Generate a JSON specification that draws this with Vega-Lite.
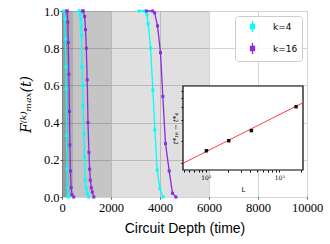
{
  "$schema": "https://vega.github.io/schema/vega-lite/v6.json",
  "width": 245,
  "height": 186,
  "autosize": {"type": "none"},
  "padding": {"left": 62, "top": 11, "right": 23, "bottom": 47},
  "background": "white",
  "config": {"view": {"stroke": "#555555", "strokeWidth": 1}},
  "datasets": {
    "shade": [
      {"start": 0, "end": 6000, "level": "a"},
      {"start": 0, "end": 2000, "level": "b"},
      {"start": 0, "end": 450, "level": "c"},
      {"start": 0, "end": 260, "level": "d"}
    ],
    "curves": [
      {"k": "k=4", "L": "L1", "t": 70, "F": 1.0},
      {"k": "k=4", "L": "L1", "t": 110, "F": 0.96},
      {"k": "k=4", "L": "L1", "t": 135, "F": 0.85},
      {"k": "k=4", "L": "L1", "t": 158, "F": 0.7},
      {"k": "k=4", "L": "L1", "t": 172, "F": 0.58},
      {"k": "k=4", "L": "L1", "t": 185, "F": 0.33},
      {"k": "k=4", "L": "L1", "t": 205, "F": 0.15},
      {"k": "k=4", "L": "L1", "t": 220, "F": 0.05},
      {"k": "k=4", "L": "L1", "t": 245, "F": 0.01},
      {"k": "k=4", "L": "L1", "t": 265, "F": 0.0},
      {"k": "k=16", "L": "L1", "t": 190, "F": 1.0},
      {"k": "k=16", "L": "L1", "t": 216, "F": 1.0},
      {"k": "k=16", "L": "L1", "t": 240, "F": 0.94},
      {"k": "k=16", "L": "L1", "t": 257, "F": 0.83},
      {"k": "k=16", "L": "L1", "t": 280, "F": 0.66},
      {"k": "k=16", "L": "L1", "t": 305, "F": 0.46},
      {"k": "k=16", "L": "L1", "t": 322, "F": 0.28},
      {"k": "k=16", "L": "L1", "t": 345, "F": 0.14},
      {"k": "k=16", "L": "L1", "t": 375, "F": 0.05},
      {"k": "k=16", "L": "L1", "t": 405, "F": 0.013},
      {"k": "k=16", "L": "L1", "t": 480, "F": 0.0},
      {"k": "k=4", "L": "L2", "t": 690, "F": 1.0},
      {"k": "k=4", "L": "L2", "t": 740, "F": 0.98},
      {"k": "k=4", "L": "L2", "t": 765, "F": 0.955},
      {"k": "k=4", "L": "L2", "t": 785, "F": 0.915},
      {"k": "k=4", "L": "L2", "t": 795, "F": 0.87},
      {"k": "k=4", "L": "L2", "t": 815, "F": 0.7},
      {"k": "k=4", "L": "L2", "t": 840, "F": 0.6},
      {"k": "k=4", "L": "L2", "t": 856, "F": 0.49},
      {"k": "k=4", "L": "L2", "t": 895, "F": 0.34},
      {"k": "k=4", "L": "L2", "t": 920, "F": 0.215},
      {"k": "k=4", "L": "L2", "t": 948, "F": 0.09},
      {"k": "k=4", "L": "L2", "t": 985, "F": 0.045},
      {"k": "k=4", "L": "L2", "t": 1030, "F": 0.018},
      {"k": "k=4", "L": "L2", "t": 1085, "F": 0.0},
      {"k": "k=16", "L": "L2", "t": 830, "F": 1.0},
      {"k": "k=16", "L": "L2", "t": 870, "F": 1.0},
      {"k": "k=16", "L": "L2", "t": 925, "F": 0.97},
      {"k": "k=16", "L": "L2", "t": 960, "F": 0.9},
      {"k": "k=16", "L": "L2", "t": 992, "F": 0.8},
      {"k": "k=16", "L": "L2", "t": 1030, "F": 0.63},
      {"k": "k=16", "L": "L2", "t": 1060, "F": 0.4},
      {"k": "k=16", "L": "L2", "t": 1100, "F": 0.24},
      {"k": "k=16", "L": "L2", "t": 1128, "F": 0.15},
      {"k": "k=16", "L": "L2", "t": 1155, "F": 0.09},
      {"k": "k=16", "L": "L2", "t": 1195, "F": 0.05},
      {"k": "k=16", "L": "L2", "t": 1237, "F": 0.027},
      {"k": "k=16", "L": "L2", "t": 1300, "F": 0.0},
      {"k": "k=4", "L": "L3", "t": 3150, "F": 1.0},
      {"k": "k=4", "L": "L3", "t": 3380, "F": 1.0},
      {"k": "k=4", "L": "L3", "t": 3470, "F": 0.98},
      {"k": "k=4", "L": "L3", "t": 3520, "F": 0.93},
      {"k": "k=4", "L": "L3", "t": 3615, "F": 0.8},
      {"k": "k=4", "L": "L3", "t": 3710, "F": 0.575},
      {"k": "k=4", "L": "L3", "t": 3790, "F": 0.36},
      {"k": "k=4", "L": "L3", "t": 3885, "F": 0.144},
      {"k": "k=4", "L": "L3", "t": 3995, "F": 0.045},
      {"k": "k=4", "L": "L3", "t": 4130, "F": 0.0},
      {"k": "k=16", "L": "L3", "t": 3450, "F": 1.0},
      {"k": "k=16", "L": "L3", "t": 3700, "F": 1.0},
      {"k": "k=16", "L": "L3", "t": 3780, "F": 0.99},
      {"k": "k=16", "L": "L3", "t": 3900, "F": 0.92},
      {"k": "k=16", "L": "L3", "t": 4020, "F": 0.776},
      {"k": "k=16", "L": "L3", "t": 4115, "F": 0.54},
      {"k": "k=16", "L": "L3", "t": 4225, "F": 0.287},
      {"k": "k=16", "L": "L3", "t": 4375, "F": 0.14},
      {"k": "k=16", "L": "L3", "t": 4510, "F": 0.02},
      {"k": "k=16", "L": "L3", "t": 4650, "F": 0.0}
    ],
    "frame": [
      {"L0": 49, "L1": 2100, "d0": 40, "d1": 587}
    ],
    "inset": [
      {"L": 102, "dt": 74},
      {"L": 205, "dt": 102},
      {"L": 417, "dt": 141},
      {"L": 1690, "dt": 303}
    ],
    "fit": [
      {"L": 49, "dt": 49.6},
      {"L": 2100, "dt": 344}
    ]
  },
  "layer": [
    {
      "layer": [
        {
          "data": {"name": "shade"},
          "mark": {"type": "rect", "fill": "black"},
          "encoding": {
            "x": {
              "field": "start", "type": "quantitative",
              "scale": {"domain": [0, 10000], "nice": false},
              "axis": {
                "values": [0, 2000, 4000, 6000, 8000, 10000], "format": "d",
                "grid": true, "gridColor": "#d4d4d4", "gridWidth": 1,
                "domain": false, "tickSize": 2, "tickColor": "#555555",
                "labelFont": "Liberation Serif", "labelFontSize": 12.5, "labelColor": "black",
                "labelPadding": 2, "labelFlush": false, "labelOverlap": false,
                "title": "Circuit Depth (time)", "titleFont": "Liberation Sans",
                "titleFontSize": 14, "titleFontWeight": "normal", "titleColor": "black",
                "titlePadding": 8
              }
            },
            "x2": {"field": "end"},
            "opacity": {
              "field": "level", "type": "nominal",
              "scale": {"domain": ["a", "b", "c", "d"], "range": [0.12, 0.11, 0.2, 0.25]},
              "legend": null
            }
          }
        },
        {
          "data": {"name": "curves"},
          "mark": {"type": "line", "strokeWidth": 1.3},
          "encoding": {
            "x": {"field": "t", "type": "quantitative"},
            "y": {
              "field": "F", "type": "quantitative",
              "scale": {"domain": [0, 1], "nice": false, "zero": false},
              "axis": {
                "tickCount": 5, "format": ".1f",
                "grid": true, "gridColor": "#d4d4d4", "gridWidth": 1,
                "domain": false, "tickSize": 2, "tickColor": "#555555",
                "labelFont": "Liberation Serif", "labelFontSize": 12.5, "labelColor": "black",
                "labelPadding": 1, "labelFlush": false, "labelOverlap": false,
                "title": "F⁽ᵏ⁾ₘₐₓ(t)", "titleFont": "DejaVu Serif", "titleFontStyle": "italic",
                "titleFontSize": 14, "titleFontWeight": "normal", "titleColor": "black",
                "titlePadding": 10
              }
            },
            "color": {
              "field": "k", "type": "nominal",
              "scale": {"domain": ["k=4", "k=16"], "range": ["#00ffff", "#8a2be2"]},
              "legend": {
                "title": null, "orient": "top-right", "offset": 5,
                "padding": 4, "rowPadding": 5, "symbolOffset": 7,
                "symbolType": "M0,-1V1M-0.36,-0.36H0.36V0.36H-0.36Z",
                "symbolSize": 121, "symbolStrokeWidth": 1.3,
                "labelFont": "DejaVu Sans", "labelFontSize": 9, "labelColor": "black",
                "labelOffset": 14,
                "strokeColor": "#cccccc", "fillColor": "rgba(255,255,255,0.8)",
                "cornerRadius": 3
              }
            },
            "detail": {"field": "L"},
            "order": {"field": "t"}
          }
        },
        {
          "data": {"name": "curves"},
          "mark": {"type": "point", "shape": "square", "filled": true, "size": 9, "opacity": 1},
          "encoding": {
            "x": {"field": "t", "type": "quantitative"},
            "y": {"field": "F", "type": "quantitative"},
            "color": {"field": "k", "type": "nominal"}
          }
        }
      ]
    },
    {
      "layer": [
        {
          "data": {"name": "frame"},
          "mark": {"type": "rect", "fill": "white", "stroke": "black", "strokeWidth": 1.2},
          "encoding": {
            "x": {
              "field": "L0", "type": "quantitative",
              "scale": {"type": "log", "domain": [49, 2100], "range": [121, 241], "nice": false},
              "axis": {
                "orient": "bottom", "offset": -27,
                "values": [50, 60, 70, 80, 90, 100, 200, 300, 400, 500, 600, 700, 800, 900, 1000, 2000],
                "labelExpr": "datum.value == 100 ? '10²' : datum.value == 1000 ? '10³' : ''",
                "labelFont": "DejaVu Serif", "labelFontSize": 6, "labelColor": "black",
                "tickSize": 2, "tickColor": "black", "domain": false, "grid": false,
                "labelPadding": 2, "labelFlush": false, "labelOverlap": false,
                "title": "L", "titleFont": "DejaVu Sans", "titleFontSize": 7,
                "titleFontWeight": "normal", "titleColor": "black", "titlePadding": 5
              }
            },
            "x2": {"field": "L1"},
            "y": {
              "field": "d0", "type": "quantitative",
              "scale": {"type": "log", "domain": [40, 587], "range": [159, 75], "nice": false},
              "axis": {
                "orient": "left", "offset": -121,
                "values": [50, 100, 200, 300, 400, 500],
                "labels": false, "tickSize": 2, "tickColor": "black",
                "domain": false, "grid": false,
                "title": "t*₁₆ − t*₄", "titleFont": "DejaVu Serif", "titleFontStyle": "italic",
                "titleFontSize": 7, "titleFontWeight": "normal", "titleColor": "black",
                "titlePadding": 2
              }
            },
            "y2": {"field": "d1"}
          }
        },
        {
          "data": {"name": "fit"},
          "mark": {"type": "line", "color": "#ff3b3b", "strokeWidth": 1, "clip": true},
          "encoding": {
            "x": {"field": "L", "type": "quantitative"},
            "y": {"field": "dt", "type": "quantitative"}
          }
        },
        {
          "data": {"name": "inset"},
          "mark": {"type": "point", "shape": "square", "filled": true, "size": 12, "color": "#111111", "opacity": 1},
          "encoding": {
            "x": {"field": "L", "type": "quantitative"},
            "y": {"field": "dt", "type": "quantitative"}
          }
        }
      ]
    }
  ],
  "resolve": {
    "scale": {"x": "independent", "y": "independent"},
    "axis": {"x": "independent", "y": "independent"}
  }
}
